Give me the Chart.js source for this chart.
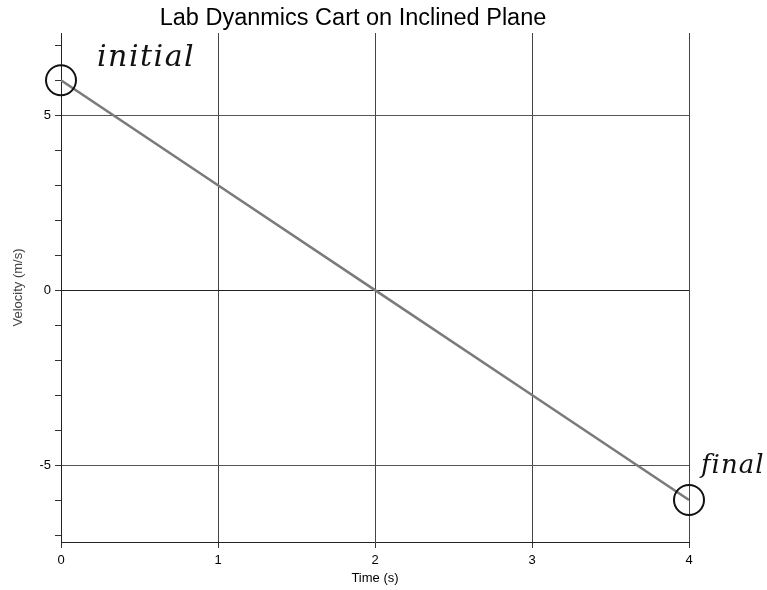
<!DOCTYPE html>
<html>
<head>
<meta charset="utf-8">
<script src="https://cdn.jsdelivr.net/npm/chart.js@4.4.1/dist/chart.umd.min.js"></script>
<style>
  html, body { margin: 0; padding: 0; background: #fff; }
  #wrap { width: 767px; height: 590px; }
</style>
</head>
<body>
<div id="wrap"><canvas id="cartChart" width="767" height="590"></canvas></div>
<script>
// data
const timeValues = [0, 1, 2, 3, 4];
const velocityValues = [6, 3, 0, -3, -6];
const xTickValues = [0, 1, 2, 3, 4];
const yTickValues = [-7, -6, -5, -4, -3, -2, -1, 0, 1, 2, 3, 4, 5, 6, 7];
const yLabelValues = [-5, 0, 5];
// handwritten notes: circled start and end points
const circledTimes = [0, 4];
const circledVelocities = [6, -6];
const noteLabels = ['initial', 'final'];

const canvas = document.getElementById('cartChart');
const ctx = canvas.getContext('2d');
const FONT = '"Liberation Sans", Arial, sans-serif';

// writes the handwritten notes next to the circled points
const notesPlugin = {
  id: 'notes',
  afterDatasetsDraw(chart) {
    const c = chart.ctx;
    const xs = chart.scales.x, ys = chart.scales.y;
    c.save();
    c.fillStyle = '#111';
    c.textBaseline = 'alphabetic';
    c.textAlign = 'left';
    // "initial" to the right of the first point
    c.font = 'italic 30px "DejaVu Serif"';
    c.letterSpacing = '1.5px';
    c.fillText(noteLabels[0], xs.getPixelForValue(circledTimes[0]) + 36, ys.getPixelForValue(circledVelocities[0]) - 14);
    // "final" up and right of the last point
    c.font = 'italic 26px "DejaVu Serif"';
    c.letterSpacing = '1px';
    c.fillText(noteLabels[1], xs.getPixelForValue(circledTimes[1]) + 12, ys.getPixelForValue(circledVelocities[1]) - 27);
    c.restore();
  }
};

new Chart(ctx, {
  type: 'scatter',
  data: {
    datasets: [
      {
        label: 'Velocity',
        data: timeValues.map((t, i) => ({ x: t, y: velocityValues[i] })),
        showLine: true,
        borderColor: '#7a7a7a',
        borderWidth: 2.5,
        pointRadius: 0,
        order: 2
      },
      {
        label: 'notes',
        data: circledTimes.map((t, i) => ({ x: t, y: circledVelocities[i] })),
        showLine: false,
        clip: false,
        pointRadius: 15,
        pointBorderWidth: 2,
        pointBorderColor: '#111',
        pointBackgroundColor: 'rgba(0,0,0,0)',
        order: 1
      }
    ]
  },
  options: {
    responsive: false,
    animation: false,
    layout: { padding: { left: 17, right: 78, top: 0, bottom: 0 } },
    plugins: {
      legend: { display: false },
      tooltip: { enabled: false },
      title: {
        display: true,
        text: 'Lab Dyanmics Cart on Inclined Plane',
        color: '#000',
        font: { family: FONT, size: 23.5, weight: 'normal', lineHeight: 1.2 },
        padding: { top: 4, bottom: 0.8 }
      }
    },
    scales: {
      x: {
        type: 'linear',
        min: 0,
        max: 4,
        afterFit(scale) { scale.height = 48; },
        afterBuildTicks(scale) { scale.ticks = xTickValues.map(v => ({ value: v })); },
        ticks: {
          color: '#000',
          font: { family: FONT, size: 13 },
          padding: 5,
          maxRotation: 0
        },
        grid: {
          color: '#444',
          lineWidth: 1,
          tickLength: 6,
          tickColor: '#333'
        },
        border: { display: true, color: '#222', width: 1 },
        title: {
          display: true,
          text: 'Time (s)',
          color: '#000',
          font: { family: FONT, size: 13 },
          padding: { top: 0, bottom: 4.2 }
        }
      },
      y: {
        type: 'linear',
        min: -7.2,
        max: 7.35,
        afterFit(scale) { scale.width = 44; },
        afterBuildTicks(scale) { scale.ticks = yTickValues.map(v => ({ value: v })); },
        ticks: {
          color: '#000',
          font: { family: FONT, size: 13 },
          padding: 4,
          callback: v => (yLabelValues.includes(v) ? String(v) : '')
        },
        grid: {
          color: c => (c.tick && yLabelValues.includes(c.tick.value) ? (c.tick.value === 0 ? '#222' : '#555') : 'rgba(0,0,0,0)'),
          lineWidth: 1,
          tickLength: 6,
          tickColor: '#333'
        },
        border: { display: true, color: '#222', width: 1 },
        title: {
          display: true,
          text: 'Velocity (m/s)',
          color: '#444',
          font: { family: FONT, size: 13 },
          padding: { top: -6.8, bottom: 0 }
        }
      }
    }
  },
  plugins: [notesPlugin]
});
</script>
</body>
</html>
